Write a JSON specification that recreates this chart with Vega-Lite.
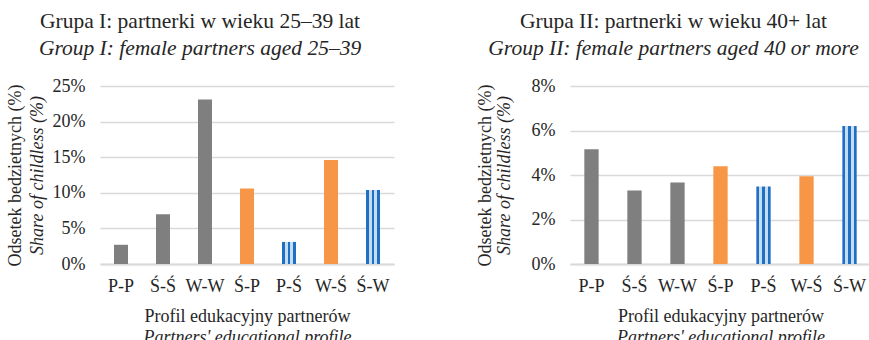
{
  "$schema": "https://vega.github.io/schema/vega-lite/v6.json",
  "padding": {"left": 6, "top": 11, "right": 0, "bottom": 0},
  "spacing": 82,
  "datasets": {
    "g1": [
      {"profil": "P-P", "typ": "A", "value": 0.027},
      {"profil": "Ś-Ś", "typ": "A", "value": 0.070},
      {"profil": "W-W", "typ": "A", "value": 0.231},
      {"profil": "Ś-P", "typ": "B", "value": 0.106},
      {"profil": "P-Ś", "typ": "C", "value": 0.031},
      {"profil": "W-Ś", "typ": "B", "value": 0.146},
      {"profil": "Ś-W", "typ": "C", "value": 0.104}
    ],
    "g2": [
      {"profil": "P-P", "typ": "A", "value": 0.0516},
      {"profil": "Ś-Ś", "typ": "A", "value": 0.033},
      {"profil": "W-W", "typ": "A", "value": 0.0366},
      {"profil": "Ś-P", "typ": "B", "value": 0.0439},
      {"profil": "P-Ś", "typ": "C", "value": 0.0348},
      {"profil": "W-Ś", "typ": "B", "value": 0.0394},
      {"profil": "Ś-W", "typ": "C", "value": 0.062}
    ]
  },
  "hconcat": [
    {
      "width": 294,
      "height": 178,
      "title": {"text": "Grupa I: partnerki w wieku 25–39 lat", "subtitle": "Group I: female partners aged 25–39"},
      "data": {"name": "g1"},
      "resolve": {"axis": {"x": "independent", "y": "independent"}},
      "layer": [
        {
          "transform": [{"filter": "datum.typ === 'A'"}],
          "mark": {"type": "bar", "color": "#7F7F7F"},
          "encoding": {
            "x": {"field": "profil", "type": "nominal",
              "scale": {"domain": ["P-P", "Ś-Ś", "W-W", "Ś-P", "P-Ś", "W-Ś", "Ś-W"], "paddingInner": 0.667, "paddingOuter": 0.333},
              "axis": {"orient": "bottom", "title": "Profil edukacyjny partnerów", "labelAngle": 0, "labelPadding": 13, "titlePadding": 12, "domain": true, "domainColor": "#D9D9D9", "domainWidth": 2, "grid": false, "ticks": false}},
            "y": {"field": "value", "type": "quantitative",
              "scale": {"domain": [0, 0.25], "nice": false},
              "axis": {"orient": "left", "title": null, "format": ".0%", "values": [0, 0.05, 0.1, 0.15, 0.2, 0.25], "grid": true, "domain": false, "ticks": false, "labelPadding": 15}}
          }
        },
        {
          "transform": [{"filter": "datum.typ === 'B'"}],
          "mark": {"type": "bar", "color": "#F79646"},
          "encoding": {
            "x": {"field": "profil", "type": "nominal",
              "scale": {"domain": ["P-P", "Ś-Ś", "W-W", "Ś-P", "P-Ś", "W-Ś", "Ś-W"], "paddingInner": 0.667, "paddingOuter": 0.333},
              "axis": {"orient": "bottom", "title": "Partners' educational profile", "titleFontStyle": "italic", "labels": false, "domain": false, "ticks": false, "grid": false, "titlePadding": 64}},
            "y": {"field": "value", "type": "quantitative",
              "scale": {"domain": [0, 0.25], "nice": false},
              "axis": {"orient": "left", "title": "Share of childless (%)", "titleFontStyle": "italic", "labels": false, "domain": false, "ticks": false, "grid": false, "titlePadding": 54}}
          }
        },
        {
          "transform": [{"filter": "datum.typ === 'C'"}],
          "mark": {"type": "bar", "color": {"gradient": "linear", "x1": 0, "y1": 0, "x2": 1, "y2": 0, "stops": [
            {"offset": 0, "color": "#1F6FC5"}, {"offset": 0.2, "color": "#1F6FC5"},
            {"offset": 0.2, "color": "#C5DCF3"}, {"offset": 0.4, "color": "#C5DCF3"},
            {"offset": 0.4, "color": "#1F6FC5"}, {"offset": 0.6, "color": "#1F6FC5"},
            {"offset": 0.6, "color": "#C5DCF3"}, {"offset": 0.8, "color": "#C5DCF3"},
            {"offset": 0.8, "color": "#1F6FC5"}, {"offset": 1, "color": "#1F6FC5"}]}},
          "encoding": {
            "x": {"field": "profil", "type": "nominal",
              "scale": {"domain": ["P-P", "Ś-Ś", "W-W", "Ś-P", "P-Ś", "W-Ś", "Ś-W"], "paddingInner": 0.667, "paddingOuter": 0.333},
              "axis": null},
            "y": {"field": "value", "type": "quantitative",
              "scale": {"domain": [0, 0.25], "nice": false},
              "axis": {"orient": "left", "title": "Odsetek bedzietnych (%)", "labels": false, "domain": false, "ticks": false, "grid": false, "titlePadding": 76}}
          }
        }
      ]
    },
    {
      "width": 301,
      "height": 178,
      "title": {"text": "Grupa II: partnerki w wieku 40+ lat", "subtitle": "Group II: female partners aged 40 or more"},
      "data": {"name": "g2"},
      "resolve": {"axis": {"x": "independent", "y": "independent"}},
      "layer": [
        {
          "transform": [{"filter": "datum.typ === 'A'"}],
          "mark": {"type": "bar", "color": "#7F7F7F"},
          "encoding": {
            "x": {"field": "profil", "type": "nominal",
              "scale": {"domain": ["P-P", "Ś-Ś", "W-W", "Ś-P", "P-Ś", "W-Ś", "Ś-W"], "paddingInner": 0.667, "paddingOuter": 0.333},
              "axis": {"orient": "bottom", "title": "Profil edukacyjny partnerów", "labelAngle": 0, "labelPadding": 13, "titlePadding": 12, "domain": true, "domainColor": "#D9D9D9", "domainWidth": 2, "grid": false, "ticks": false}},
            "y": {"field": "value", "type": "quantitative",
              "scale": {"domain": [0, 0.08], "nice": false},
              "axis": {"orient": "left", "title": null, "format": ".0%", "values": [0, 0.02, 0.04, 0.06, 0.08], "grid": true, "domain": false, "ticks": false, "labelPadding": 15}}
          }
        },
        {
          "transform": [{"filter": "datum.typ === 'B'"}],
          "mark": {"type": "bar", "color": "#F79646"},
          "encoding": {
            "x": {"field": "profil", "type": "nominal",
              "scale": {"domain": ["P-P", "Ś-Ś", "W-W", "Ś-P", "P-Ś", "W-Ś", "Ś-W"], "paddingInner": 0.667, "paddingOuter": 0.333},
              "axis": {"orient": "bottom", "title": "Partners' educational profile", "titleFontStyle": "italic", "labels": false, "domain": false, "ticks": false, "grid": false, "titlePadding": 64}},
            "y": {"field": "value", "type": "quantitative",
              "scale": {"domain": [0, 0.08], "nice": false},
              "axis": {"orient": "left", "title": "Share of childless (%)", "titleFontStyle": "italic", "labels": false, "domain": false, "ticks": false, "grid": false, "titlePadding": 57}}
          }
        },
        {
          "transform": [{"filter": "datum.typ === 'C'"}],
          "mark": {"type": "bar", "color": {"gradient": "linear", "x1": 0, "y1": 0, "x2": 1, "y2": 0, "stops": [
            {"offset": 0, "color": "#1F6FC5"}, {"offset": 0.2, "color": "#1F6FC5"},
            {"offset": 0.2, "color": "#C5DCF3"}, {"offset": 0.4, "color": "#C5DCF3"},
            {"offset": 0.4, "color": "#1F6FC5"}, {"offset": 0.6, "color": "#1F6FC5"},
            {"offset": 0.6, "color": "#C5DCF3"}, {"offset": 0.8, "color": "#C5DCF3"},
            {"offset": 0.8, "color": "#1F6FC5"}, {"offset": 1, "color": "#1F6FC5"}]}},
          "encoding": {
            "x": {"field": "profil", "type": "nominal",
              "scale": {"domain": ["P-P", "Ś-Ś", "W-W", "Ś-P", "P-Ś", "W-Ś", "Ś-W"], "paddingInner": 0.667, "paddingOuter": 0.333},
              "axis": null},
            "y": {"field": "value", "type": "quantitative",
              "scale": {"domain": [0, 0.08], "nice": false},
              "axis": {"orient": "left", "title": "Odsetek bedzietnych (%)", "labels": false, "domain": false, "ticks": false, "grid": false, "titlePadding": 76}}
          }
        }
      ]
    }
  ],
  "config": {
    "view": {"stroke": null},
    "font": "Liberation Serif, Times New Roman, serif",
    "title": {"font": "Liberation Serif, Times New Roman, serif", "fontSize": 21.5, "fontWeight": "normal", "color": "#262626",
      "subtitleFont": "Liberation Serif, Times New Roman, serif", "subtitleFontSize": 21.5, "subtitleFontStyle": "italic", "subtitleColor": "#262626",
      "anchor": "middle", "frame": "bounds", "offset": 18, "subtitlePadding": 5},
    "axis": {"labelFont": "Liberation Serif, Times New Roman, serif", "labelFontSize": 18, "labelColor": "#262626",
      "titleFont": "Liberation Serif, Times New Roman, serif", "titleFontSize": 18, "titleFontWeight": "normal", "titleColor": "#262626",
      "gridColor": "#D9D9D9", "gridWidth": 1.5, "tickSize": 0}
  }
}
